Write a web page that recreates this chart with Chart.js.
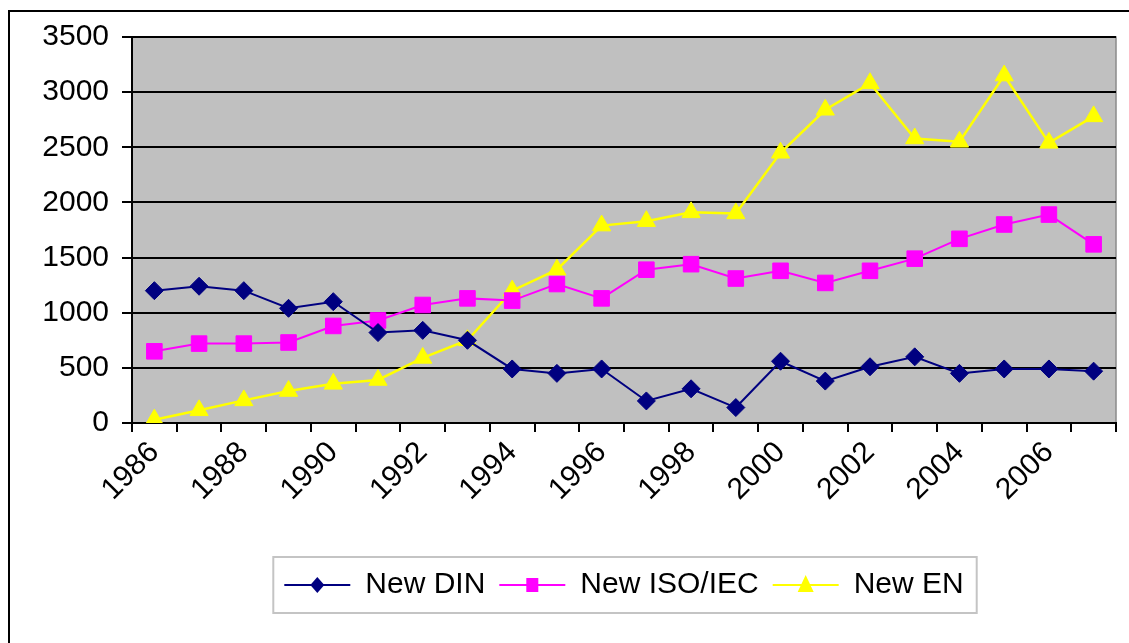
<!DOCTYPE html>
<html>
<head>
<meta charset="utf-8">
<script src="https://cdn.jsdelivr.net/npm/chart.js@4/dist/chart.umd.min.js"></script>
<style>
  html, body { margin: 0; padding: 0; background: #fff; }
  #wrap { width: 1129px; height: 643px; position: relative; }
</style>
</head>
<body>
<div id="wrap"><canvas id="standards"></canvas></div>
<script>
// years on the category axis (every other one is labelled)
var years = ['1986', '1987', '1988', '1989', '1990', '1991', '1992', '1993', '1994', '1995', '1996',
    '1997', '1998', '1999', '2000', '2001', '2002', '2003', '2004', '2005', '2006', '2007'];

// values
var newDIN = [1200, 1240, 1200, 1040, 1100, 820, 840, 750, 490, 450, 490,
    200, 310, 140, 560, 380, 510, 600, 450, 490, 490, 470];
var newISO = [650, 720, 720, 730, 880, 930, 1070, 1130, 1110, 1260, 1130,
    1390, 1440, 1310, 1380, 1270, 1380, 1490, 1670, 1800, 1890, 1620];
var newEN = [30, 115, 205, 290, 355, 390, 590, 750, 1200, 1390, 1790,
    1830, 1910, 1900, 2450, 2840, 3080, 2580, 2550, 3150, 2540, 2780];

var yTicks = [0, 500, 1000, 1500, 2000, 2500, 3000, 3500];

var FONT = '"Liberation Sans", Arial, sans-serif';

// white page, the outer frame, grey plot area, legend box with markers
var excelLook = {
    id: 'excelLook',
    beforeDraw: function (chart) {
        var ctx = chart.ctx, a = chart.chartArea;
        ctx.save();
        ctx.fillStyle = '#fff';
        ctx.fillRect(0, 0, chart.width, chart.height);
        ctx.strokeStyle = '#000';
        ctx.lineWidth = 2;
        ctx.beginPath();
        ctx.moveTo(9, chart.height);
        ctx.lineTo(9, 11);
        ctx.lineTo(chart.width, 11);
        ctx.stroke();
        ctx.fillStyle = '#c0c0c0';
        ctx.fillRect(a.left, a.top, a.right - a.left, a.bottom - a.top);
        ctx.strokeStyle = '#8a8a8a';
        ctx.lineWidth = 1.5;
        ctx.beginPath();
        ctx.moveTo(a.left, a.top);
        ctx.lineTo(a.right, a.top);
        ctx.lineTo(a.right, a.bottom);
        ctx.stroke();
        ctx.restore();
    },
    afterDraw: function (chart) {
        var lg = chart.legend, ctx = chart.ctx;
        if (!lg || !lg.legendHitBoxes || !lg.legendHitBoxes.length) return;
        var hb = lg.legendHitBoxes;
        var bw = lg.options.labels.boxWidth;
        var first = hb[0], last = hb[hb.length - 1];
        ctx.save();
        ctx.strokeStyle = '#c4c4c4';
        ctx.lineWidth = 2;
        ctx.strokeRect(first.left - 11, first.top - 13, last.left + last.width - first.left + 24, first.height + 26);
        hb.forEach(function (b, i) {
            var ds = chart.data.datasets[i];
            var cx = b.left + bw / 2, cy = b.top + b.height / 2;
            ctx.fillStyle = ds.pointBackgroundColor;
            ctx.beginPath();
            if (ds.pointStyle === 'rectRot') {
                ctx.moveTo(cx, cy - 8); ctx.lineTo(cx + 7, cy); ctx.lineTo(cx, cy + 8); ctx.lineTo(cx - 7, cy);
            } else if (ds.pointStyle === 'rect') {
                ctx.rect(cx - 6, cy - 7, 12, 14);
            } else {
                ctx.moveTo(cx, cy - 10); ctx.lineTo(cx + 8, cy + 7); ctx.lineTo(cx - 8, cy + 7);
            }
            ctx.closePath();
            ctx.fill();
        });
        ctx.restore();
    }
};

var chart = document.getElementById('standards').getContext('2d');

var standardsChart = new Chart(chart, {
    type: 'line',
    data: {
        labels: years,
        datasets: [
            {
                label: 'New DIN',
                data: newDIN,
                borderColor: '#000080',
                backgroundColor: '#000080',
                pointBackgroundColor: '#000080',
                pointBorderColor: '#000080',
                borderWidth: 2,
                pointStyle: 'rectRot',
                pointRadius: 9,
                pointBorderWidth: 1
            },
            {
                label: 'New ISO/IEC',
                data: newISO,
                borderColor: '#ff00ff',
                backgroundColor: '#ff00ff',
                pointBackgroundColor: '#ff00ff',
                pointBorderColor: '#ff00ff',
                borderWidth: 2,
                pointStyle: 'rect',
                pointRadius: 11,
                pointBorderWidth: 1
            },
            {
                label: 'New EN',
                data: newEN,
                borderColor: '#ffff00',
                backgroundColor: '#ffff00',
                pointBackgroundColor: '#ffff00',
                pointBorderColor: '#ffff00',
                borderWidth: 2.5,
                pointStyle: 'triangle',
                pointRadius: 10.5,
                pointBorderWidth: 1
            }
        ]
    },
    options: {
        responsive: true,
        maintainAspectRatio: false,
        animation: false,
        layout: { padding: { left: 10, right: 13, top: 37, bottom: 33 } },
        elements: { line: { tension: 0 } },
        scales: {
            x: {
                type: 'category',
                offset: true,
                afterFit: function (s) { s.height = 133; },
                grid: {
                    offset: true,
                    drawOnChartArea: false,
                    drawTicks: true,
                    tickLength: 9,
                    color: '#000',
                    lineWidth: 2
                },
                border: { display: true, color: '#000', width: 2 },
                ticks: {
                    autoSkip: false,
                    maxRotation: 45,
                    minRotation: 45,
                    padding: 3,
                    color: '#000',
                    font: { family: FONT, size: 30 },
                    callback: function (v, i) { return i % 2 === 0 ? years[i] : ''; }
                }
            },
            y: {
                min: yTicks[0],
                max: yTicks[yTicks.length - 1],
                afterFit: function (s) { s.width = 122; },
                afterBuildTicks: function (s) { s.ticks = yTicks.map(function (v) { return { value: v }; }); },
                grid: {
                    color: '#000',
                    lineWidth: 2,
                    tickLength: 10
                },
                border: { display: true, color: '#000', width: 2 },
                ticks: {
                    padding: 13,
                    color: '#000',
                    font: { family: FONT, size: 30 },
                    callback: function (v) { return String(v); }
                }
            }
        },
        plugins: {
            tooltip: { enabled: false },
            legend: {
                position: 'bottom',
                fullSize: false,
                labels: {
                    boxWidth: 66,
                    boxHeight: 2,
                    padding: 14,
                    color: '#000',
                    font: { family: FONT, size: 30 },
                    generateLabels: function (c) {
                        return c.data.datasets.map(function (d, i) {
                            return {
                                text: d.label,
                                fillStyle: d.borderColor,
                                strokeStyle: d.borderColor,
                                lineWidth: 0,
                                hidden: false,
                                datasetIndex: i,
                                fontColor: '#000'
                            };
                        });
                    }
                }
            }
        }
    },
    plugins: [excelLook]
});
</script>
</body>
</html>
